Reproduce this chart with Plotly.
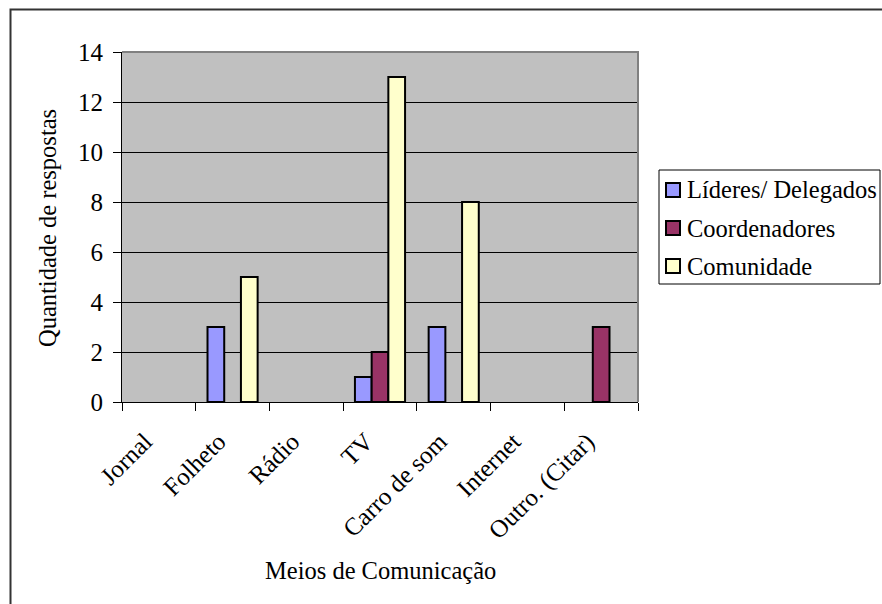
import plotly.graph_objects as go

# Survey: which media people used to hear about the event
categorias = ["Jornal", "Folheto", "Rádio", "TV", "Carro de som", "Internet", "Outro. (Citar)"]
lideres = [0, 3, 0, 1, 3, 0, 0]
coordenadores = [0, 0, 0, 2, 0, 0, 3]
comunidade = [0, 5, 0, 13, 8, 0, 0]

series = [
    ("Líderes/ Delegados", lideres, "#9999FF"),
    ("Coordenadores", coordenadores, "#993366"),
    ("Comunidade", comunidade, "#FFFFCC"),
]

FONT = "Liberation Serif"
FS = 24.5
FS_TICK = 25

fig = go.Figure()
for nome, valores, cor in series:
    # zero answers are left empty so no flat outline is drawn on the axis
    y = [v if v else None for v in valores]
    fig.add_trace(go.Bar(
        x=categorias, y=y, name=nome, showlegend=False,
        marker=dict(color=cor, line=dict(color="black", width=2)),
    ))

W, H = 882, 604
L, R, T, B = 122, 638, 52, 402
pw, ph = R - L, B - T

def px(x):
    return (x - L) / pw

def py(y):
    return (B - y) / ph

shapes = [
    # grey border on the top and right of the plot area
    dict(type="path", xref="paper", yref="paper",
         path="M 0,1 L 1,1 L 1,0", line=dict(color="#808080", width=2), layer="above"),
    # outer chart frame
    dict(type="path", xref="paper", yref="paper",
         path=f"M {px(10.5)},{py(620)} L {px(10.5)},{py(9.5)} L {px(900)},{py(9.5)}",
         line=dict(color="#333333", width=2), layer="above"),
    # legend box
    dict(type="rect", xref="paper", yref="paper",
         x0=px(659), x1=px(880), y0=py(284), y1=py(170),
         line=dict(color="black", width=1), fillcolor="white", layer="above"),
]

annotations = [
    dict(text="Meios de Comunicação", xref="paper", yref="paper",
         x=0.5, y=py(570), xanchor="center", yanchor="middle",
         showarrow=False, font=dict(family=FONT, size=FS)),
    dict(text="Quantidade de respostas", xref="paper", yref="paper",
         x=px(47), y=py(228), xanchor="center", yanchor="middle", textangle=-90,
         showarrow=False, font=dict(family=FONT, size=FS)),
]

# legend entries: swatch + label
row_y = [190, 228, 266]
for (nome, _, cor), ry in zip(series, row_y):
    shapes.append(dict(type="rect", xref="paper", yref="paper",
                       x0=px(666), x1=px(680), y0=py(ry + 7), y1=py(ry - 7),
                       line=dict(color="black", width=2), fillcolor=cor, layer="above"))
    annotations.append(dict(text=nome, xref="paper", yref="paper",
                            x=px(685), y=py(ry), xanchor="left", yanchor="middle",
                            showarrow=False, font=dict(family=FONT, size=FS)))

fig.update_layout(
    width=W, height=H,
    margin=dict(l=L, r=W - R, t=T, b=H - B, autoexpand=False),
    paper_bgcolor="white",
    plot_bgcolor="#C0C0C0",
    font=dict(family=FONT, size=FS, color="black"),
    barmode="group",
    bargap=0.32,
    bargroupgap=0,
    showlegend=False,
    xaxis=dict(
        type="category",
        showline=True, linecolor="black", linewidth=1,
        ticks="outside", tickson="boundaries", ticklen=8, tickcolor="black",
        tickangle=-45,
        ticklabelstandoff=14, ticklabelshift=-14,
        tickfont=dict(family=FONT, size=FS_TICK),
        showgrid=False,
    ),
    yaxis=dict(
        range=[0, 14], dtick=2,
        showline=True, linecolor="black", linewidth=1,
        ticks="outside", ticklen=8, tickcolor="black",
        ticklabelstandoff=5,
        tickfont=dict(family=FONT, size=FS_TICK),
        showgrid=True, gridcolor="black", gridwidth=1,
        zeroline=False,
    ),
    shapes=shapes,
    annotations=annotations,
)

fig.write_html("out.html")
